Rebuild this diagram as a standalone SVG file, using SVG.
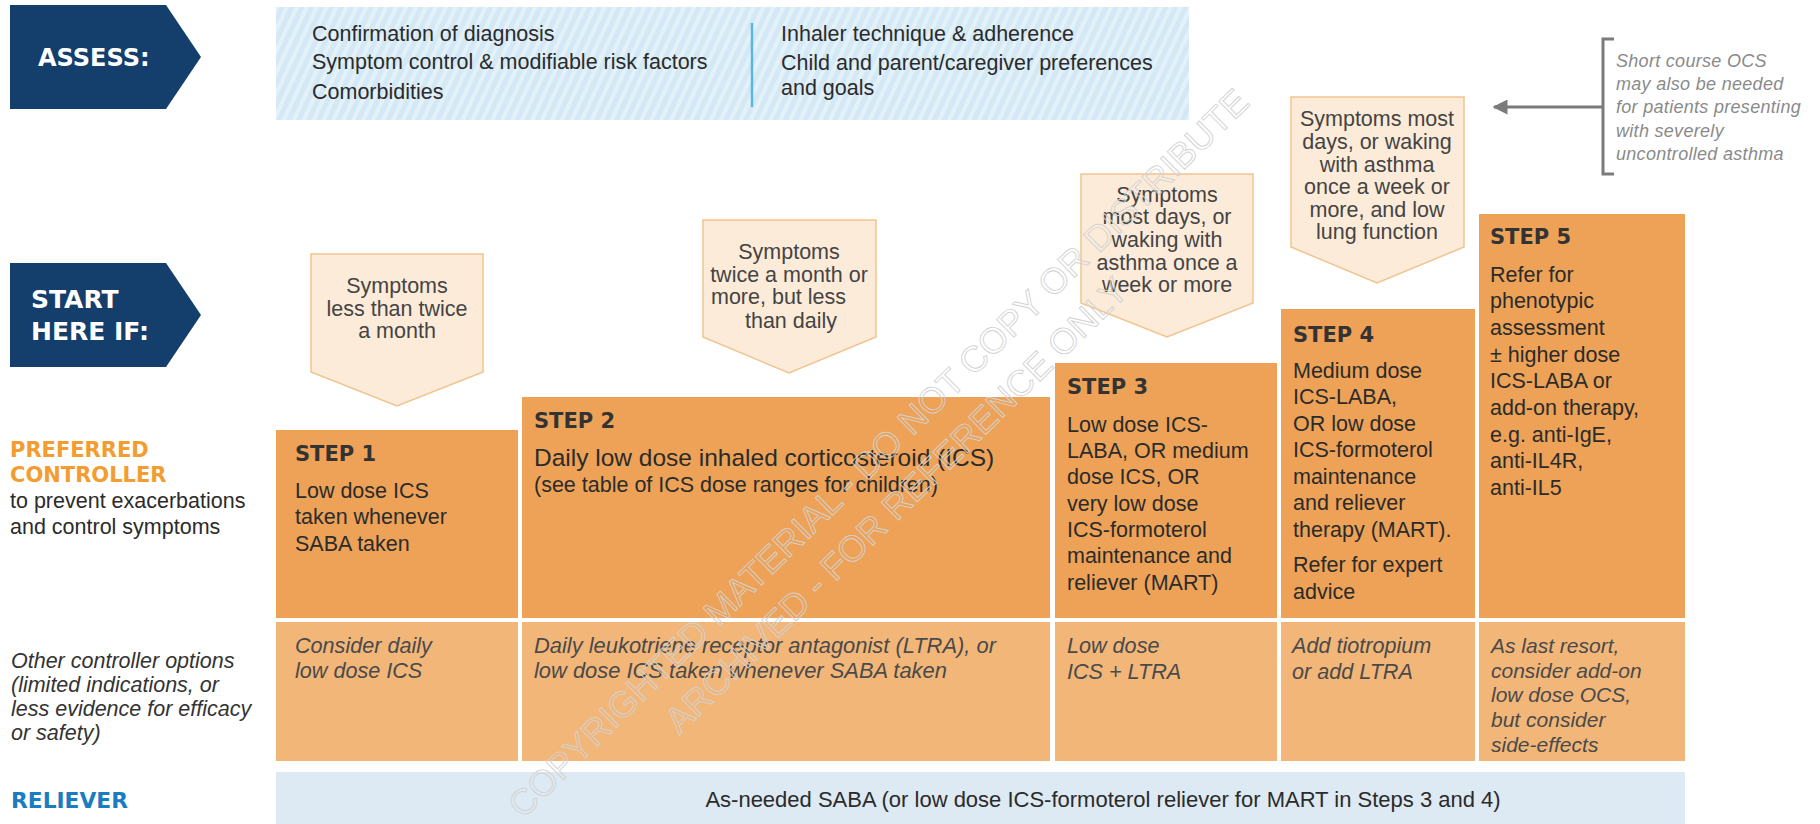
<svg xmlns="http://www.w3.org/2000/svg" width="1820" height="824" viewBox="0 0 1820 824">
<style>
.t{font-family:"Liberation Sans",Arial,sans-serif;font-size:21.5px;fill:#2b2b2b}
.i{font-family:"Liberation Sans",Arial,sans-serif;font-size:21.6px;font-style:italic;fill:#4a4a4a}
.h{font-family:"DejaVu Sans","Liberation Sans",sans-serif;font-weight:bold}
.hw{fill:#ffffff;font-size:24px}
.step{fill:#333333;font-size:21px}
.sym{font-family:"Liberation Sans",Arial,sans-serif;font-size:21.5px;fill:#444444;text-anchor:middle}
.note{font-family:"Liberation Sans",Arial,sans-serif;font-size:18px;font-style:italic;fill:#8a8a8a;letter-spacing:0.3px}
.navy{fill:#143f6c}
.up{fill:#eda257}
.low{fill:#f3b679}
.chev{fill:#fdebd9;stroke:#f1c38f;stroke-width:1.5}
.wm{font-family:"Liberation Sans",Arial,sans-serif;font-size:36px;fill:none;stroke:#d2d2d2;stroke-width:0.9}
</style>
<defs>
<pattern id="hatch" patternUnits="userSpaceOnUse" width="9" height="9" patternTransform="rotate(25)">
<rect width="9" height="9" fill="#d4e9f5"/>
<rect width="4" height="9" fill="#e3f1f9"/>
</pattern>
<marker id="ah" viewBox="0 0 10 10" refX="9" refY="5" markerWidth="5" markerHeight="5" orient="auto">
<path d="M0,0 L10,5 L0,10 z" fill="#7b7b7b"/>
</marker>
</defs>
<rect width="1820" height="824" fill="#ffffff"/>

<g id="assess">
<polygon class="navy" points="10,5 166,5 201,57 166,109 10,109"/>
<text class="h hw" x="38" y="66">ASSESS:</text>
</g>

<g id="assess-box">
<rect x="276" y="7" width="913" height="113" fill="url(#hatch)"/>
<line x1="752" y1="23" x2="752" y2="107" stroke="#5bb7e1" stroke-width="2.5"/>
<text class="t" x="312" y="41">Confirmation of diagnosis</text>
<text class="t" x="312" y="69">Symptom control &amp; modifiable risk factors</text>
<text class="t" x="312" y="99">Comorbidities</text>
<text class="t" x="781" y="41">Inhaler technique &amp; adherence</text>
<text class="t" x="781" y="70">Child and parent/caregiver preferences</text>
<text class="t" x="781" y="95">and goals</text>
</g>

<g id="ocs-note">
<path d="M1614,39 H1603 V174 H1614" fill="none" stroke="#7b7b7b" stroke-width="3"/>
<text class="note" x="1616" y="67">Short course OCS</text>
<text class="note" x="1616" y="90">may also be needed</text>
<text class="note" x="1616" y="113">for patients presenting</text>
<text class="note" x="1616" y="137">with severely</text>
<text class="note" x="1616" y="160">uncontrolled asthma</text>
</g>

<g id="start-here">
<polygon class="navy" points="10,263 166,263 201,315 166,367 10,367"/>
<text class="h hw" x="31" y="308" style="font-size:25px">START</text>
<text class="h hw" x="31" y="340" style="font-size:25px">HERE IF:</text>
</g>

<g id="symptoms-1">
<polygon class="chev" points="311,254 483,254 483,372 397,406 311,372"/>
<text class="sym" x="397" y="293">Symptoms</text>
<text class="sym" x="397" y="316">less than twice</text>
<text class="sym" x="397" y="338">a month</text>
</g>

<g id="symptoms-2">
<polygon class="chev" points="703,220 876,220 876,337 789,373 703,337"/>
<text class="sym" x="789" y="259">Symptoms</text>
<text class="sym" x="789" y="282">twice a month or</text>
<text class="sym" x="711" y="304" style="text-anchor:start">more, but less</text>
<text class="sym" x="791" y="328">than daily</text>
</g>

<g id="symptoms-3">
<polygon class="chev" points="1081,174 1253,174 1253,303 1167,337 1081,303"/>
<text class="sym" x="1167" y="202">Symptoms</text>
<text class="sym" x="1167" y="224">most days, or</text>
<text class="sym" x="1167" y="247">waking with</text>
<text class="sym" x="1167" y="270">asthma once a</text>
<text class="sym" x="1167" y="292">week or more</text>
</g>

<g id="symptoms-4">
<polygon class="chev" points="1291,97 1464,97 1464,247 1377,283 1291,247"/>
<text class="sym" x="1377" y="126">Symptoms most</text>
<text class="sym" x="1377" y="149">days, or waking</text>
<text class="sym" x="1377" y="172">with asthma</text>
<text class="sym" x="1377" y="194">once a week or</text>
<text class="sym" x="1377" y="217">more, and low</text>
<text class="sym" x="1377" y="239">lung function</text>
</g>

<g id="row-labels">
<text class="h" x="10" y="457" style="font-size:21px;fill:#f39c2f">PREFERRED</text>
<text class="h" x="10" y="482" style="font-size:21px;fill:#f39c2f">CONTROLLER</text>
<text class="t" x="10" y="508">to prevent exacerbations</text>
<text class="t" x="10" y="534">and control symptoms</text>
<text class="i" x="11" y="668" style="fill:#333333;font-size:21.5px">Other controller options</text>
<text class="i" x="11" y="692" style="fill:#333333;font-size:21.5px">(limited indications, or</text>
<text class="i" x="11" y="716" style="fill:#333333;font-size:21.5px">less evidence for efficacy</text>
<text class="i" x="11" y="740" style="fill:#333333;font-size:21.5px">or safety)</text>
<text class="h" x="11" y="808" style="font-size:21px;fill:#1b7dc0" textLength="117" lengthAdjust="spacingAndGlyphs">RELIEVER</text>
</g>

<g id="step-1">
<rect class="up" x="276" y="430" width="242" height="188"/>
<text class="h step" x="295" y="461">STEP 1</text>
<text class="t" x="295" y="498">Low dose ICS</text>
<text class="t" x="295" y="524">taken whenever</text>
<text class="t" x="295" y="551">SABA taken</text>
<rect class="low" x="276" y="622" width="242" height="139"/>
<text class="i" x="295" y="653">Consider daily</text>
<text class="i" x="295" y="678">low dose ICS</text>
</g>

<g id="step-2">
<rect class="up" x="522" y="397" width="528" height="221"/>
<text class="h step" x="534" y="428">STEP 2</text>
<text class="t" x="534" y="466" style="font-size:24.5px">Daily low dose inhaled corticosteroid (ICS)</text>
<text class="t" x="534" y="492">(see table of ICS dose ranges for children)</text>
<rect class="low" x="522" y="622" width="528" height="139"/>
<text class="i" x="534" y="653" style="font-size:21.9px">Daily leukotriene receptor antagonist (LTRA), or</text>
<text class="i" x="534" y="678" style="font-size:21.9px">low dose ICS taken whenever SABA taken</text>
</g>

<g id="step-3">
<rect class="up" x="1055" y="363" width="222" height="255"/>
<text class="h step" x="1067" y="394">STEP 3</text>
<text class="t" x="1067" y="432">Low dose ICS-</text>
<text class="t" x="1067" y="458">LABA, OR medium</text>
<text class="t" x="1067" y="484">dose ICS, OR</text>
<text class="t" x="1067" y="511">very low dose</text>
<text class="t" x="1067" y="537">ICS-formoterol</text>
<text class="t" x="1067" y="563">maintenance and</text>
<text class="t" x="1067" y="590">reliever (MART)</text>
<rect class="low" x="1055" y="622" width="222" height="139"/>
<text class="i" x="1067" y="653">Low dose</text>
<text class="i" x="1067" y="679">ICS + LTRA</text>
</g>

<g id="step-4">
<rect class="up" x="1281" y="309" width="194" height="309"/>
<text class="h step" x="1293" y="342">STEP 4</text>
<text class="t" x="1293" y="378">Medium dose</text>
<text class="t" x="1293" y="404">ICS-LABA,</text>
<text class="t" x="1293" y="431">OR low dose</text>
<text class="t" x="1293" y="457">ICS-formoterol</text>
<text class="t" x="1293" y="484">maintenance</text>
<text class="t" x="1293" y="510">and reliever</text>
<text class="t" x="1293" y="537">therapy (MART).</text>
<text class="t" x="1293" y="572">Refer for expert</text>
<text class="t" x="1293" y="599">advice</text>
<rect class="low" x="1281" y="622" width="194" height="139"/>
<text class="i" x="1292" y="653">Add tiotropium</text>
<text class="i" x="1292" y="679">or add LTRA</text>
</g>

<g id="step-5">
<rect class="up" x="1479" y="214" width="206" height="404"/>
<text class="h step" x="1490" y="244">STEP 5</text>
<text class="t" x="1490" y="282">Refer for</text>
<text class="t" x="1490" y="308">phenotypic</text>
<text class="t" x="1490" y="335">assessment</text>
<text class="t" x="1490" y="362">± higher dose</text>
<text class="t" x="1490" y="388">ICS-LABA or</text>
<text class="t" x="1490" y="415">add-on therapy,</text>
<text class="t" x="1490" y="442">e.g. anti-IgE,</text>
<text class="t" x="1490" y="468">anti-IL4R,</text>
<text class="t" x="1490" y="495">anti-IL5</text>
<rect class="low" x="1479" y="622" width="206" height="139"/>
<text class="i" x="1491" y="653" style="font-size:21px">As last resort,</text>
<text class="i" x="1491" y="678" style="font-size:21px">consider add-on</text>
<text class="i" x="1491" y="702" style="font-size:21px">low dose OCS,</text>
<text class="i" x="1491" y="727" style="font-size:21px">but consider</text>
<text class="i" x="1491" y="752" style="font-size:21px">side-effects</text>
</g>

<g id="reliever">
<rect x="276" y="772" width="1409" height="52" fill="#dde9f3"/>
<text class="t" x="1103" y="807" text-anchor="middle" style="font-size:22px">As-needed SABA (or low dose ICS-formoterol reliever for MART in Steps 3 and 4)</text>
</g>

<g id="connectors">
<line x1="1602" y1="107" x2="1494" y2="107" stroke="#7b7b7b" stroke-width="3" marker-end="url(#ah)"/>
</g>

<g id="watermark">
<text class="wm" transform="translate(887,462) rotate(-44.5)" text-anchor="middle">COPYRIGHTED MATERIAL - DO NOT COPY OR DISTRIBUTE</text>
<text class="wm" transform="translate(905,514) rotate(-44.5)" text-anchor="middle">ARCHIVED - FOR REFERENCE ONLY</text>
</g>
</svg>
